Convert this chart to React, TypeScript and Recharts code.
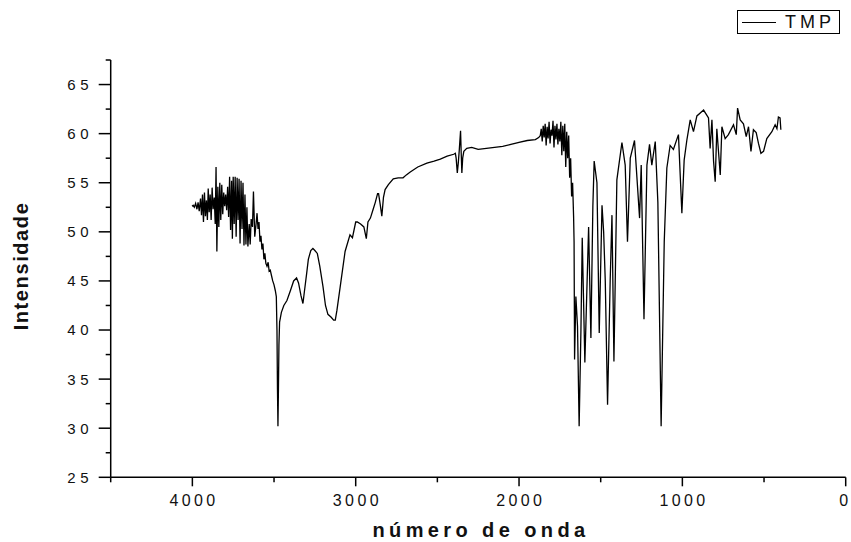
import { FC } from "react";
import { LineChart, Line, XAxis, YAxis, Label } from "recharts";

const waveNumbers = [
  4002, 3995, 3988, 3980, 3972, 3965, 3958, 3950, 3944, 3938,
  3932, 3926, 3920, 3914, 3908, 3903, 3897, 3891, 3885, 3879,
  3873, 3866, 3860, 3855, 3850, 3844, 3838, 3832, 3826, 3820,
  3814, 3808, 3802, 3796, 3790, 3784, 3778, 3772, 3766, 3760,
  3755, 3750, 3744, 3738, 3732, 3726, 3720, 3714, 3708, 3702,
  3696, 3690, 3684, 3678, 3672, 3666, 3660, 3652, 3646, 3640,
  3632, 3626, 3618, 3610, 3604, 3598, 3592, 3586, 3580, 3574,
  3568, 3562, 3556, 3550, 3543, 3536, 3530, 3523, 3515, 3508,
  3500, 3492, 3486, 3482, 3479, 3476, 3473, 3470, 3466, 3455,
  3440, 3421, 3400, 3380, 3362, 3350, 3335, 3323, 3315, 3300,
  3290, 3275, 3262, 3250, 3235, 3220, 3200, 3185, 3170, 3150,
  3135, 3125, 3115, 3095, 3065, 3035, 3020, 3000, 2990, 2970,
  2950, 2935, 2925, 2910, 2895, 2880, 2866, 2860, 2850, 2840,
  2830, 2820, 2800, 2770, 2740, 2710, 2690, 2666, 2620, 2564,
  2520, 2482, 2440, 2400, 2390, 2385, 2378, 2372, 2366, 2358,
  2354, 2350, 2345, 2338, 2320, 2290, 2250, 2200, 2150, 2100,
  2050, 2000, 1950, 1900, 1880, 1870, 1864, 1858, 1852, 1846,
  1840, 1834, 1828, 1822, 1816, 1810, 1804, 1798, 1792, 1786,
  1780, 1774, 1768, 1762, 1756, 1750, 1744, 1738, 1732, 1726,
  1720, 1714, 1708, 1702, 1696, 1690, 1684, 1678, 1672, 1666,
  1663, 1660, 1652, 1642, 1632, 1621, 1613, 1597, 1574, 1560,
  1548, 1540, 1523, 1509, 1492, 1482, 1472, 1458, 1442, 1431,
  1419, 1401, 1370, 1350, 1336, 1319, 1293, 1262, 1252, 1235,
  1217, 1201, 1187, 1166, 1150, 1130, 1111, 1095, 1075, 1055,
  1024, 1003, 989, 972, 952, 932, 911, 870, 840, 830,
  819, 809, 799, 789, 778, 768, 758, 738, 718, 687,
  670, 662, 646, 626, 609, 595, 580, 565, 548, 534,
  519, 503, 483, 452, 432, 421, 412, 402, 397,
];

// intensity values matching waveNumbers
const intensity = [
  52.6, 52.7, 52.5, 52.9, 52.3, 53.0, 52.1, 53.4, 51.7, 53.8,
  51.0, 54.0, 51.6, 53.2, 51.2, 54.4, 52.0, 53.8, 51.2, 54.5,
  52.3, 53.5, 50.8, 56.6, 48.0, 54.6, 50.5, 55.0, 51.2, 54.8,
  51.8, 54.0, 52.6, 53.8, 52.2, 54.6, 51.5, 55.6, 50.2, 55.2,
  49.3, 55.6, 50.8, 55.6, 49.5, 55.5, 51.2, 55.4, 48.8, 55.2,
  50.3, 55.0, 48.6, 53.8, 48.7, 52.5, 48.5, 50.8, 48.7, 51.3,
  50.5, 54.1, 49.5, 50.8, 51.9, 50.3, 51.0, 49.0, 49.6, 48.2,
  48.8, 47.2, 47.8, 46.8, 46.5, 46.9, 46.0, 46.1, 45.5, 45.0,
  44.6, 44.0, 43.4, 40.0, 34.0, 30.2, 34.0, 38.5, 40.8, 41.8,
  42.5, 43.0, 44.0, 45.0, 45.3, 44.8, 43.5, 42.7, 43.8, 45.8,
  47.2, 48.1, 48.3, 48.1, 47.8, 46.5, 44.4, 42.5, 41.6, 41.3,
  41.0, 41.0, 42.0, 44.4, 48.0, 49.7, 49.4, 51.0, 51.0, 50.8,
  50.5, 49.3, 51.0, 51.4, 52.2, 53.0, 53.9, 53.9, 52.8, 51.6,
  53.5, 54.3, 54.8, 55.4, 55.5, 55.5, 55.8, 56.1, 56.6, 57.0,
  57.2, 57.4, 57.7, 57.9, 58.0, 57.5, 56.0, 57.0, 58.3, 60.3,
  58.0, 56.0, 57.5, 58.2, 58.5, 58.6, 58.4, 58.5, 58.6, 58.7,
  58.9, 59.1, 59.3, 59.4, 59.6, 59.8, 60.5, 59.2, 60.8, 59.6,
  61.0, 58.8, 60.7, 59.5, 61.2, 59.0, 60.4, 59.8, 61.3, 58.6,
  60.8, 59.4, 61.0, 58.9, 60.5, 59.2, 61.2, 57.8, 60.8, 58.2,
  61.0, 56.6, 60.2, 57.5, 59.8, 55.5, 57.5, 53.6, 55.0, 51.6,
  49.0, 37.0, 43.4, 40.4, 30.2, 40.0, 49.4, 36.7, 50.5, 39.2,
  52.6, 57.2, 55.0, 39.7, 52.7, 50.0, 45.0, 32.4, 45.0, 51.7,
  36.8, 55.3, 59.1, 56.8, 49.0, 57.5, 59.3, 51.4, 56.8, 41.1,
  56.8, 58.9, 56.8, 59.2, 53.0, 30.2, 49.0, 56.5, 58.8, 58.4,
  59.9, 51.9, 57.3, 59.4, 61.4, 60.2, 61.8, 62.4, 61.6, 58.5,
  61.4, 57.2, 55.1, 60.5, 58.0, 55.8, 60.7, 59.5, 59.9, 60.9,
  59.9, 62.6, 61.4, 61.0, 59.7, 60.7, 58.2, 60.4, 60.1, 59.0,
  58.0, 58.2, 59.5, 60.2, 60.9, 60.5, 61.7, 61.6, 60.4,
];

const xTicks = [0, 500, 1000, 1500, 2000, 2500, 3000, 3500, 4000, 4500];
const yTicks = [25, 27.5, 30, 32.5, 35, 37.5, 40, 42.5, 45, 47.5, 50, 52.5, 55, 57.5, 60, 62.5, 65, 67.5];

const seriesName = "TMP";

const data = waveNumbers.map((wn, i) => ({ wn, value: intensity[i] }));

const FONT = "'Liberation Sans', Arial, sans-serif";

const XTick = (props: any) => {
  const { x, y, payload } = props;
  const major = payload.value % 1000 === 0;
  const last = payload.value === 0;
  return (
    <g>
      <line x1={x} x2={x} y1={y} y2={y + (major ? 9 : 5)} stroke="#000" strokeWidth={1.5} />
      {major && (
        <text
          x={last ? x - 2 : x + 1.7}
          y={y + 28.4}
          textAnchor="middle"
          fontFamily={FONT}
          fontSize={16}
          letterSpacing={last ? 0 : 3.4}
          fill="#111"
        >
          {payload.value}
        </text>
      )}
    </g>
  );
};

const YTick = (props: any) => {
  const { x, y, payload } = props;
  const major = payload.value % 5 === 0;
  return (
    <g>
      <line x1={x} x2={x - (major ? 12 : 5)} y1={y} y2={y} stroke="#000" strokeWidth={1.5} />
      {major && (
        <text
          x={x - 17.5}
          y={y + 5.4}
          textAnchor="end"
          fontFamily={FONT}
          fontSize={15}
          letterSpacing={4.6}
          fill="#111"
        >
          {payload.value}
        </text>
      )}
    </g>
  );
};

const App: FC = () => {
  return (
    <div style={{ position: "absolute", left: 0, top: 0, width: 851, height: 542, background: "#fff" }}>
      <LineChart
        width={851}
        height={542}
        data={data}
        margin={{ top: 60, right: 5.3, left: 0, bottom: 0 }}
      >
        <XAxis
          dataKey="wn"
          type="number"
          domain={[0, 4500]}
          reversed
          ticks={xTicks}
          interval={0}
          tickSize={0}
          tickMargin={0}
          tick={<XTick />}
          tickLine={false}
          axisLine={{ stroke: "#000", strokeWidth: 1.5 }}
          height={64.7}
          allowDataOverflow
        >
          <Label
            content={() => (
              <text
                x={481}
                y={536.7}
                textAnchor="middle"
                fontFamily={FONT}
                fontWeight="bold"
                fontSize={20}
                letterSpacing={4.4}
                fill="#111"
              >
                número de onda
              </text>
            )}
          />
        </XAxis>
        <YAxis
          type="number"
          domain={[25, 67.5]}
          ticks={yTicks}
          interval={0}
          tickSize={0}
          tickMargin={0}
          tick={<YTick />}
          tickLine={false}
          axisLine={{ stroke: "#000", strokeWidth: 1.5 }}
          width={110.7}
          allowDataOverflow
        >
          <Label
            content={() => (
              <text
                x={28.3}
                y={266}
                transform="rotate(-90 28.3 266)"
                textAnchor="middle"
                fontFamily={FONT}
                fontWeight="bold"
                fontSize={20}
                letterSpacing={1.6}
                fill="#111"
              >
                Intensidade
              </text>
            )}
          />
        </YAxis>
        <Line
          type="linear"
          dataKey="value"
          name={seriesName}
          stroke="#000"
          strokeWidth={1.3}
          dot={false}
          isAnimationActive={false}
        />
      </LineChart>
      <div
        style={{
          position: "absolute",
          left: 737,
          top: 10,
          width: 103,
          height: 24,
          border: "1px solid #000",
          boxSizing: "border-box",
          display: "flex",
          alignItems: "center",
          fontFamily: FONT,
          fontSize: 18,
          letterSpacing: 4,
          color: "#111",
        }}
      >
        <span style={{ display: "inline-block", width: 34, height: 0, borderTop: "1.3px solid #000", marginLeft: 4, marginRight: 9 }} />
        <span>{seriesName}</span>
      </div>
    </div>
  );
};

export default App;
